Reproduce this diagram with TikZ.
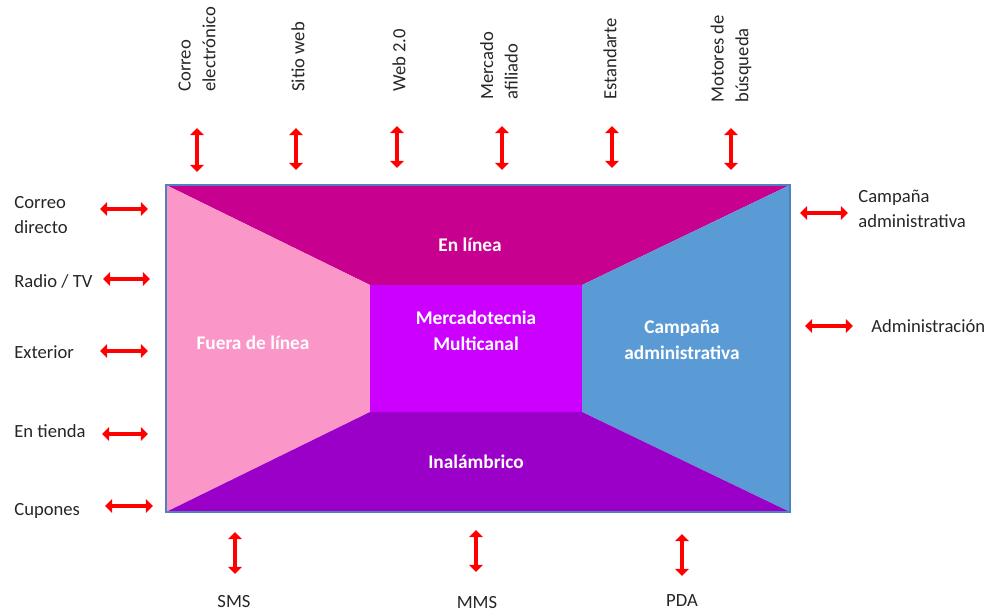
\documentclass[tikz,border=0pt]{standalone}
\usepackage{fontspec}
\setmainfont{Carlito}
\usetikzlibrary{arrows.meta}

\definecolor{onlinec}{HTML}{C8008F}
\definecolor{offlinec}{HTML}{FB96C8}
\definecolor{campc}{HTML}{5B9BD5}
\definecolor{wirelessc}{HTML}{9A00C8}
\definecolor{centerc}{HTML}{CC00FF}
\definecolor{framec}{HTML}{4F81BD}

\begin{document}
\begin{tikzpicture}[
    x=0.02cm, y=-0.02cm,
    biarrow/.style={draw=red, line width=2.8pt,
        {Triangle[width=7.5pt,length=4pt]}-{Triangle[width=7.5pt,length=4pt]}},
    label/.style={font=\fontsize{10.6}{14}\selectfont, text=black!85,
        align=left, inner sep=0pt},
    vlabel/.style={label, rotate=90, anchor=west},
    region/.style={font=\fontsize{11}{15}\selectfont\bfseries,
        text=white, align=center, inner sep=0pt}
]
    \useasboundingbox (0,0) rectangle (987,612);

    % corners of the frame and of the centre box
    \coordinate (tl) at (166,185);
    \coordinate (tr) at (790,185);
    \coordinate (br) at (790,512);
    \coordinate (bl) at (166,512);
    \coordinate (ctl) at (370,285);
    \coordinate (ctr) at (582,285);
    \coordinate (cbr) at (582,412);
    \coordinate (cbl) at (370,412);

    \fill[onlinec] (tl) -- (tr) -- (ctr) -- (ctl) -- cycle;
    \fill[offlinec] (tl) -- (ctl) -- (cbl) -- (bl) -- cycle;
    \fill[campc] (tr) -- (br) -- (cbr) -- (ctr) -- cycle;
    \fill[wirelessc] (bl) -- (cbl) -- (cbr) -- (br) -- cycle;
    \fill[centerc] (ctl) rectangle (cbr);
    \draw[framec, line width=1pt] (tl) rectangle (br);

    \node[region] (online) at (470,245) {En línea};
    \node[region] (offline) at (253,343) {Fuera de línea};
    \node[region] (multi) at (476,331) {Mercadotecnia\\Multicanal};
    \node[region] (camp) at (682,340) {Campaña\\administrativa};
    \node[region] (wireless) at (476,462) {Inalámbrico};

    % top channels
    \node[vlabel] (email) at (197,92) {Correo\\electrónico};
    \node[vlabel] (site) at (298,92) {Sitio web};
    \node[vlabel] (web) at (399,92) {Web 2.0};
    \node[vlabel] (affil) at (499,100) {Mercado\\afiliado};
    \node[vlabel] (banner) at (610,100) {Estandarte};
    \node[vlabel] (search) at (731,103) {Motores de\\búsqueda};

    \coordinate (email1) at (197,128); \coordinate (email2) at (197,172);
    \coordinate (site1) at (296,128); \coordinate (site2) at (296,170);
    \coordinate (web1) at (397,126); \coordinate (web2) at (397,168);
    \coordinate (affil1) at (502,126); \coordinate (affil2) at (502,170);
    \coordinate (banner1) at (612,126); \coordinate (banner2) at (612,168);
    \coordinate (search1) at (731,128); \coordinate (search2) at (731,170);
    \draw[biarrow] (email1) -- (email2);
    \draw[biarrow] (site1) -- (site2);
    \draw[biarrow] (web1) -- (web2);
    \draw[biarrow] (affil1) -- (affil2);
    \draw[biarrow] (banner1) -- (banner2);
    \draw[biarrow] (search1) -- (search2);

    % left channels
    \node[label, anchor=west] (mail) at (14,215) {Correo\\directo};
    \node[label, anchor=west] (radio) at (14,281) {Radio / TV};
    \node[label, anchor=west] (outdoor) at (14,352) {Exterior};
    \node[label, anchor=west] (store) at (14,431) {En tienda};
    \node[label, anchor=west] (coupon) at (14,511) {Cupones};

    \coordinate (mail1) at (100,209); \coordinate (mail2) at (148,209);
    \coordinate (radio1) at (103,279); \coordinate (radio2) at (150,279);
    \coordinate (outdoor1) at (100,351); \coordinate (outdoor2) at (148,351);
    \coordinate (store1) at (102,434); \coordinate (store2) at (148,434);
    \coordinate (coupon1) at (105,506); \coordinate (coupon2) at (153,506);
    \draw[biarrow] (mail1) -- (mail2);
    \draw[biarrow] (radio1) -- (radio2);
    \draw[biarrow] (outdoor1) -- (outdoor2);
    \draw[biarrow] (store1) -- (store2);
    \draw[biarrow] (coupon1) -- (coupon2);

    % right channels
    \node[label, anchor=west] (campaign) at (858,209) {Campaña\\administrativa};
    \node[label, anchor=west] (admin) at (871,326) {Administración};

    \coordinate (campaign1) at (800,213); \coordinate (campaign2) at (848,213);
    \coordinate (admin1) at (805,326); \coordinate (admin2) at (853,326);
    \draw[biarrow] (campaign1) -- (campaign2);
    \draw[biarrow] (admin1) -- (admin2);

    % bottom channels
    \node[label] (sms) at (234,602) {SMS};
    \node[label] (mms) at (477,603) {MMS};
    \node[label] (pda) at (682,601) {PDA};

    \coordinate (sms1) at (235,532); \coordinate (sms2) at (235,574);
    \coordinate (mms1) at (476,530); \coordinate (mms2) at (476,572);
    \coordinate (pda1) at (682,534); \coordinate (pda2) at (682,576);
    \draw[biarrow] (sms1) -- (sms2);
    \draw[biarrow] (mms1) -- (mms2);
    \draw[biarrow] (pda1) -- (pda2);
\end{tikzpicture}
\end{document}
